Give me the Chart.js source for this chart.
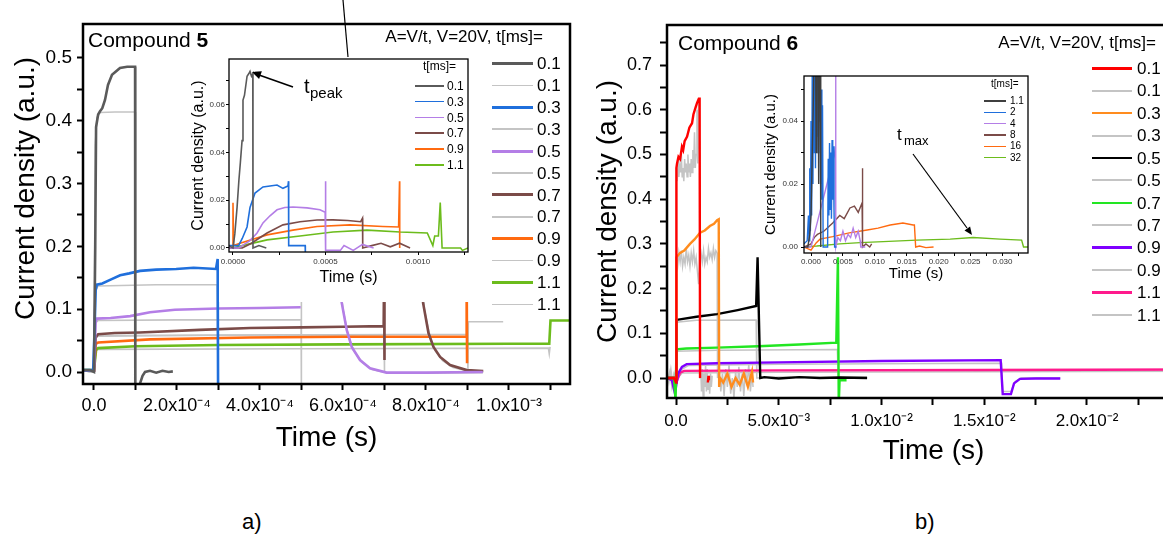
<!DOCTYPE html>
<html>
<head>
<meta charset="utf-8">
<script src="https://cdn.jsdelivr.net/npm/chart.js@4.4.0/dist/chart.umd.min.js"></script>
<style>
html, body { margin: 0; padding: 0; background: #fff; }
body { width: 1163px; height: 547px; overflow: hidden; position: relative; font-family: 'Liberation Sans', Arial, sans-serif; color: #000; }
canvas { position: absolute; }
.txt { position: absolute; white-space: nowrap; line-height: 1; }
.bar { position: absolute; }
</style>
</head>
<body>
<canvas id="c5" width="580" height="460" style="left:0px;top:0px"></canvas>
<canvas id="c5in" width="291" height="250" style="left:185px;top:52px"></canvas>
<canvas id="c6" width="620" height="470" style="left:580px;top:0px"></canvas>
<canvas id="c6in" width="281" height="222" style="left:755px;top:68px"></canvas>
<div id="marks"></div>
<svg width="1163" height="547" style="position:absolute;left:0;top:0;pointer-events:none">
  <line x1="343" y1="0" x2="348" y2="57" stroke="#000" stroke-width="1.2"/>
  <line x1="293" y1="87" x2="259" y2="75" stroke="#000" stroke-width="1.6"/>
  <polygon points="252,72 261.9,71.3 259.1,78.9" fill="#000"/>
  <line x1="913" y1="154" x2="967" y2="228" stroke="#000" stroke-width="1.2"/>
  <polygon points="972,235 970.1,226.4 964.5,230.6" fill="#000"/>
</svg>
<script>
// --- DATA: compound 5, main plot  [time (s), current density] ---
const c5Times = ['0.1', '0.3', '0.5', '0.7', '0.9', '1.1'];
const c5_01 = [[-2.6e-5,0.003],[-1e-5,0.003],[0,0.0],[3e-6,0.2],[5e-6,0.39],[1e-5,0.41],[1.45e-5,0.415],[2e-5,0.42],[2.65e-5,0.433],[3.37e-5,0.457],[4.34e-5,0.473],[6.27e-5,0.484],[8e-5,0.486],[9.9e-5,0.486],[9.95e-5,-0.03],[1.05e-4,null],[1.11e-4,-0.018],[1.17e-4,-0.006],[1.23e-4,0.0],[1.35e-4,0.002],[1.5e-4,-0.001],[1.65e-4,0.002],[1.8e-4,0.0],[1.9e-4,0.001]];
const c5_03 = [[-2.6e-5,0.003],[-2e-6,0.003],[1e-6,0.06],[4e-6,0.13],[7e-6,0.139],[2e-5,0.141],[4e-5,0.147],[6.3e-5,0.154],[8.5e-5,0.157],[1.11e-4,0.161],[1.5e-4,0.163],[1.98e-4,0.164],[2.4e-4,0.166],[2.94e-4,0.164],[2.98e-4,0.18],[2.99e-4,-0.03]];
const c5_05 = [[-2.6e-5,0.002],[0,0.002],[4e-6,0.08],[7e-6,0.085],[4e-5,0.086],[8.7e-5,0.089],[1.35e-4,0.095],[1.95e-4,0.099],[3e-4,0.101],[4e-4,0.102],[4.98e-4,0.103],[5.2e-4,null],[5.9e-4,0.16],[5.97e-4,0.11],[6.09e-4,0.067],[6.21e-4,0.04],[6.41e-4,0.019],[6.65e-4,0.006],[7.05e-4,-0.001],[8e-4,-0.001],[9.37e-4,0.0]];
const c5_07 = [[-2.6e-5,0.002],[0,0.002],[4e-6,0.055],[1e-5,0.06],[5e-5,0.062],[1.1e-4,0.063],[2.55e-4,0.067],[3.76e-4,0.07],[5e-4,0.071],[6e-4,0.072],[6.98e-4,0.073],[6.99e-4,0.16],[7.0e-4,0.019],[7.1e-4,null],[7.9e-4,0.16],[7.93e-4,0.11],[8.06e-4,0.062],[8.18e-4,0.04],[8.34e-4,0.024],[8.58e-4,0.011],[8.98e-4,0.003],[9.38e-4,0.0015]];
const c5_09 = [[-2.6e-5,0.002],[0,0.002],[4e-6,0.045],[1e-5,0.047],[1.35e-4,0.052],[3.76e-4,0.055],[6e-4,0.056],[8.97e-4,0.056],[8.98e-4,0.16],[8.99e-4,0.014]];
const c5_11 = [[-2.6e-5,0.003],[0,0.003],[5e-6,0.035],[1e-5,0.038],[1e-4,0.041],[3e-4,0.043],[6e-4,0.044],[1.0e-3,0.045],[1.097e-3,0.045],[1.1e-3,0.082],[1.147e-3,0.082]];
const c5_01g = [[-2.6e-5,0.002],[0,0.0],[3e-6,0.36],[7e-6,0.405],[1.5e-5,0.413],[5e-5,0.414],[9.9e-5,0.414],[1.0e-4,-0.03]];
const c5_03g = [[-2.6e-5,0.002],[0,0.0],[4e-6,0.13],[1e-5,0.137],[1.5e-4,0.139],[2.97e-4,0.139],[2.99e-4,-0.03]];
const c5_05g = [[-2.6e-5,0.002],[0,0.0],[4e-6,0.078],[1e-5,0.082],[2e-4,0.083],[4.99e-4,0.083],[4.995e-4,0.15],[5.0e-4,-0.03],[5.5e-4,null],[5.9e-4,0.16],[6.0e-4,0.1],[6.12e-4,0.06],[6.25e-4,0.035],[6.45e-4,0.016],[6.7e-4,0.004],[7.1e-4,-0.002],[9.37e-4,-0.001]];
const c5_07g = [[-2.6e-5,0.002],[0,0.0],[4e-6,0.055],[1e-5,0.058],[3e-4,0.059],[6.99e-4,0.059],[7.0e-4,0.0],[7.4e-4,null],[7.9e-4,0.16],[7.96e-4,0.1],[8.1e-4,0.055],[8.22e-4,0.034],[8.4e-4,0.018],[8.65e-4,0.007],[9.05e-4,0.001],[9.38e-4,0.0]];
const c5_09g = [[-2.6e-5,0.002],[0,0.0],[4e-6,0.054],[1e-5,0.057],[4e-4,0.059],[9.0e-4,0.06],[9.01e-4,0.0],[9.02e-4,0.08],[9.86e-4,0.08]];
const c5_11g = [[-2.6e-5,0.002],[0,0.0],[5e-6,0.034],[1e-5,0.036],[5e-4,0.037],[1.095e-3,0.038],[1.097e-3,0.029],[1.099e-3,0.04]];
const c5XTicks = [0, 1e-4, 2e-4, 3e-4, 4e-4, 5e-4, 6e-4, 7e-4, 8e-4, 9e-4, 1e-3, 1.1e-3];
const c5XLabels = ['0.0', '', '2.0x10⁻⁴', '', '4.0x10⁻⁴', '', '6.0x10⁻⁴', '', '8.0x10⁻⁴', '', '1.0x10⁻³', ''];
const c5YTicks = [0, 0.05, 0.1, 0.15, 0.2, 0.25, 0.3, 0.35, 0.4, 0.45, 0.5];
const c5YLabels = ['0.0', '', '0.1', '', '0.2', '', '0.3', '', '0.4', '', '0.5'];

// --- DATA: compound 5, inset ---
const c5iTimes = ['0.1', '0.3', '0.5', '0.7', '0.9', '1.1'];
const c5i_01 = [[-2.2e-5,0.001],[0,0.0],[1e-5,0.006],[2.2e-5,0.017],[3.2e-5,0.0285],[4.0e-5,0.036],[4.9e-5,0.045],[5.4e-5,0.062],[6.2e-5,0.064],[7.6e-5,0.072],[8.5e-5,0.073],[9.2e-5,0.074],[1.0e-4,0.072],[1.07e-4,0.073],[1.08e-4,0.0],[1.4e-4,0.001],[1.8e-4,0.0]];
const c5i_03 = [[-2.2e-5,0.001],[3e-5,0.001],[5e-5,0.004],[7.6e-5,0.0088],[9.2e-5,0.017],[1.19e-4,0.023],[1.62e-4,0.0256],[2e-4,0.026],[2.38e-4,0.0264],[2.7e-4,0.025],[2.97e-4,0.026],[3.0e-4,0.028],[3.01e-4,0.001],[3.9e-4,0.001],[3.91e-4,-0.002]];
const c5i_05 = [[-2.2e-5,0.0],[3e-5,0.0],[5e-5,0.001],[9e-5,0.003],[1.3e-4,0.0063],[1.62e-4,0.0105],[2.0e-4,0.0135],[2.38e-4,0.016],[2.8e-4,0.017],[3.24e-4,0.0172],[4e-4,0.0168],[4.7e-4,0.016],[4.98e-4,0.015],[5.0e-4,0.028],[5.01e-4,-0.001],[5.8e-4,-0.001],[6e-4,0.001],[6.5e-4,-0.001],[7e-4,0.0015],[7.6e-4,0.0]];
const c5i_07 = [[-2.2e-5,0.0],[5e-5,0.0],[1e-4,0.002],[1.84e-4,0.0063],[2.7e-4,0.0097],[3.62e-4,0.011],[4.54e-4,0.0117],[5.4e-4,0.0118],[6.2e-4,0.0115],[6.9e-4,0.011],[7.0e-4,0.0125],[7.01e-4,0.0],[7.5e-4,0.001],[8e-4,0.002],[8.5e-4,0.0005],[9e-4,0.002],[9.57e-4,0.0]];
const c5i_09 = [[-2.2e-5,0.0],[-1e-6,0.0],[0,0.019],[3e-6,0.001],[3.8e-5,0.002],[1.84e-4,0.0055],[3.24e-4,0.0075],[4.54e-4,0.009],[6.32e-4,0.0097],[8.1e-4,0.009],[8.95e-4,0.0088],[9.0e-4,0.028],[9.01e-4,0.0]];
const c5i_11 = [[-2.2e-5,0.0],[0,0.0],[5e-5,0.001],[1.84e-4,0.0034],[3.62e-4,0.005],[5.4e-4,0.0067],[7.24e-4,0.0075],[9.03e-4,0.0067],[1.05e-3,0.0063],[1.08e-3,0.001],[1.09e-3,0.005],[1.11e-3,0.005],[1.12e-3,0.019],[1.13e-3,0.0],[1.23e-3,0.0],[1.24e-3,-0.001],[1.27e-3,0.0]];
const c5iXTicks = [0, 0.00025, 0.0005, 0.00075, 0.001, 0.00125];
const c5iXLabels = ['0.0000', '', '0.0005', '', '0.0010', ''];
const c5iYTicks = [0, 0.01, 0.02, 0.03, 0.04, 0.05, 0.06, 0.07];
const c5iYLabels = ['0.00', '', '0.02', '', '0.04', '', '0.06', ''];

// --- DATA: compound 6, main plot ---
const c6Times = ['0.1', '0.3', '0.5', '0.7', '0.9', '1.1'];
const c6_01 = [[-4.4e-4,0.0],[-1e-4,0.0],[0,-0.01],[2e-5,0.47],[5e-5,0.48],[1.2e-4,0.495],[2e-4,0.49],[2.9e-4,0.517],[3.5e-4,0.51],[4.2e-4,0.53],[5.4e-4,0.54],[6.5e-4,0.56],[7.8e-4,0.57],[8.5e-4,0.59],[9.5e-4,0.605],[1.02e-3,0.615],[1.11e-3,0.625],[1.15e-3,0.625],[1.17e-3,0.0],[1.2e-3,null],[1.55e-3,-0.01],[1.58e-3,0.005],[1.6e-3,-0.005]];
const c6_03 = [[-4.4e-4,0.0],[-1e-4,0.0],[0,0.0],[2e-5,0.27],[2e-4,0.28],[4e-4,0.285],[6.8e-4,0.3],[9e-4,0.31],[1.17e-3,0.325],[1.4e-3,0.33],[1.65e-3,0.34],[1.85e-3,0.345],[2.0e-3,0.353],[2.08e-3,0.355],[2.1e-3,-0.02],[2.15e-3,0.0],[2.3e-3,-0.01],[2.5e-3,0.01],[2.7e-3,-0.02],[2.9e-3,0.0],[3.1e-3,-0.015],[3.3e-3,0.01],[3.5e-3,-0.02],[3.7e-3,0.015],[3.75e-3,-0.01]];
const c6_05 = [[-4.4e-4,0.0],[-1e-4,0.0],[0,0.0],[2e-5,0.13],[1e-3,0.137],[2e-3,0.143],[3e-3,0.152],[3.9e-3,0.161],[3.97e-3,0.27],[4.1e-3,0.0],[4.3e-3,0.002],[5e-3,-0.001],[6e-3,0.002],[7e-3,0.0],[8e-3,0.001],[9.3e-3,0.0]];
const c6_07 = [[-4.4e-4,0.0],[-1e-4,0.0],[-2e-5,-0.05],[2e-5,0.064],[5e-4,0.066],[2e-3,0.068],[4e-3,0.071],[6e-3,0.075],[7.8e-3,0.079],[7.88e-3,0.27],[7.92e-3,-0.06],[7.96e-3,-0.005],[8.3e-3,-0.005]];
const c6_09 = [[-4.4e-4,0.0],[-2e-4,-0.005],[-5e-5,-0.035],[1e-4,0.01],[2.9e-4,0.025],[5.2e-4,0.031],[2e-3,0.033],[5e-3,0.035],[1e-2,0.038],[1.58e-2,0.04],[1.59e-2,-0.036],[1.63e-2,-0.036],[1.645e-2,-0.012],[1.674e-2,-0.002],[1.75e-2,-0.001],[1.87e-2,-0.001]];
const c6_11 = [[-4.4e-4,0.0],[-1e-4,0.0],[0,-0.012],[2e-4,0.012],[4e-4,0.016],[5e-3,0.017],[1.5e-2,0.018],[2.55e-2,0.019]];
const c6_01g = [[-4.4e-4,0.01],[-3.5e-4,-0.01],[-2.5e-4,0.02],[-1.5e-4,-0.015],[-5e-5,0.01],[0,0.0],[2e-5,0.47],[6e-5,0.44],[1e-4,0.49],[1.4e-4,0.45],[1.8e-4,0.48],[2.2e-4,0.46],[2.6e-4,0.5],[3e-4,0.45],[3.4e-4,0.47],[3.8e-4,0.44],[4.2e-4,0.49],[4.6e-4,0.46],[5e-4,0.48],[5.4e-4,0.45],[5.8e-4,0.5],[6.2e-4,0.46],[6.6e-4,0.48],[7e-4,0.45],[7.4e-4,0.49],[7.8e-4,0.46],[8.2e-4,0.51],[8.6e-4,0.47],[9e-4,0.55],[9.4e-4,0.47],[9.8e-4,0.5],[1.02e-3,0.6],[1.06e-3,0.48],[1.1e-3,0.62],[1.15e-3,0.5],[1.17e-3,0.0],[1.2e-3,0.03],[1.24e-3,-0.03],[1.28e-3,0.02],[1.32e-3,-0.04],[1.36e-3,0.01],[1.4e-3,-0.02],[1.44e-3,0.03],[1.48e-3,-0.03],[1.52e-3,0.02],[1.56e-3,-0.025],[1.6e-3,0.0],[1.64e-3,-0.035],[1.68e-3,0.01],[1.72e-3,-0.02],[1.76e-3,0.005]];
const c6_03g = [[-4.4e-4,-0.01],[-3e-4,0.015],[-2e-4,-0.02],[-1e-4,0.01],[0,0.0],[2e-5,0.27],[8e-5,0.25],[1.4e-4,0.28],[2e-4,0.26],[2.6e-4,0.285],[3.2e-4,0.25],[3.8e-4,0.27],[4.4e-4,0.255],[5e-4,0.29],[5.6e-4,0.26],[6.2e-4,0.275],[6.8e-4,0.25],[7.4e-4,0.28],[8e-4,0.26],[8.6e-4,0.285],[9.2e-4,0.255],[9.8e-4,0.27],[1.04e-3,0.24],[1.1e-3,0.21],[1.16e-3,0.265],[1.22e-3,0.28],[1.28e-3,0.26],[1.34e-3,0.285],[1.4e-3,0.255],[1.46e-3,0.27],[1.52e-3,0.26],[1.58e-3,0.29],[1.64e-3,0.27],[1.7e-3,0.28],[1.76e-3,0.265],[1.82e-3,0.29],[1.88e-3,0.27],[1.94e-3,0.285],[2.0e-3,0.28],[2.02e-3,0.0],[2.1e-3,0.02],[2.18e-3,-0.03],[2.26e-3,0.01],[2.34e-3,-0.04],[2.42e-3,0.02],[2.5e-3,-0.02],[2.58e-3,0.03],[2.66e-3,-0.035],[2.74e-3,0.0],[2.82e-3,-0.045],[2.9e-3,0.015],[2.98e-3,-0.02],[3.06e-3,0.025],[3.14e-3,-0.03],[3.22e-3,0.01],[3.3e-3,-0.04],[3.38e-3,0.02],[3.46e-3,-0.015],[3.54e-3,0.03],[3.62e-3,-0.03],[3.7e-3,0.01],[3.75e-3,-0.02]];
const c6_05g = [[-4.4e-4,0.0],[0,0.0],[2e-5,0.125],[1e-3,0.129],[3.9e-3,0.13],[3.93e-3,0.0],[5e-3,0.002],[7e-3,0.001],[9.3e-3,0.002]];
const c6_07g = [[-4.4e-4,0.0],[0,0.0],[2e-5,0.06],[2e-3,0.062],[7.85e-3,0.064],[7.9e-3,0.0]];
const c6_09g = [[-4.4e-4,0.0],[0,-0.01],[3e-4,0.02],[6e-4,0.028],[5e-3,0.031],[1.0e-2,0.032],[1.585e-2,0.033],[1.59e-2,-0.03],[1.63e-2,-0.03],[1.65e-2,-0.008],[1.68e-2,0.0],[1.87e-2,0.0]];
const c6_11g = [[-4.4e-4,0.0],[0,-0.005],[3e-4,0.011],[5e-3,0.013],[2.55e-2,0.015]];
const c6XTicks = [0, 0.0025, 0.005, 0.0075, 0.01, 0.0125, 0.015, 0.0175, 0.02, 0.0225];
const c6XLabels = ['0.0', '', '5.0x10⁻³', '', '1.0x10⁻²', '', '1.5x10⁻²', '', '2.0x10⁻²', ''];
const c6YTicks = [0, 0.05, 0.1, 0.15, 0.2, 0.25, 0.3, 0.35, 0.4, 0.45, 0.5, 0.55, 0.6, 0.65, 0.7, 0.75];
const c6YLabels = ['0.0', '', '0.1', '', '0.2', '', '0.3', '', '0.4', '', '0.5', '', '0.6', '', '0.7', ''];

// --- DATA: compound 6, inset ---
const c6iTimes = ['1.1', '2', '4', '8', '16', '32'];
const c6i_1 = [[-1.1e-3,0.0],[-5e-4,0.0],[-2e-4,0.004],[0,0.01],[2e-4,0.03],[4e-4,0.05],[5e-4,0.07],[7e-4,0.07],[8e-4,0.03],[9e-4,0.07],[1.1e-3,0.065],[1.2e-3,0.02],[1.3e-3,0.07],[1.45e-3,0.07],[1.5e-3,0.01],[1.55e-3,0.0]];
const c6i_2 = [[-1.1e-3,0.001],[-6e-4,0.002],[-4e-4,0.01],[-3e-4,0.002],[-2e-4,0.025],[-1e-4,0.005],[0,0.04],[1e-4,0.01],[2e-4,0.06],[3e-4,0.02],[4e-4,0.07],[5e-4,0.03],[6e-4,0.06],[7e-4,0.025],[8e-4,0.07],[9e-4,0.035],[1e-3,0.06],[1.1e-3,0.03],[1.2e-3,0.07],[1.3e-3,0.04],[1.4e-3,0.065],[1.5e-3,0.02],[1.6e-3,0.05],[1.7e-3,0.015],[1.8e-3,0.045],[1.9e-3,0.0],[2.6e-3,0.0],[2.7e-3,0.028],[2.8e-3,0.01],[2.9e-3,0.033],[3.0e-3,0.012],[3.1e-3,0.03],[3.2e-3,0.009],[3.3e-3,0.034],[3.4e-3,0.015],[3.5e-3,0.032],[3.6e-3,0.012],[3.7e-3,0.0],[4.0e-3,0.0]];
const c6i_4 = [[-1.1e-3,0.0],[0,0.0],[5e-4,0.004],[1e-3,0.008],[1.5e-3,0.012],[2e-3,0.016],[2.5e-3,0.02],[3e-3,0.024],[3.5e-3,0.028],[3.8e-3,0.031],[3.85e-3,0.06],[3.9e-3,0.0],[4.2e-3,0.003],[4.6e-3,0.002],[5e-3,0.005],[5.4e-3,0.002],[5.8e-3,0.004],[6.2e-3,0.003],[6.6e-3,0.006],[7e-3,0.003],[7.4e-3,0.005],[7.7e-3,0.002],[7.8e-3,0.0],[8.5e-3,0.0]];
const c6i_8 = [[-1.1e-3,0.0],[0,0.001],[5e-4,0.003],[1e-3,0.004],[2e-3,0.005],[3.4e-3,0.0076],[4.5e-3,0.01],[5.2e-3,0.009],[6.1e-3,0.0124],[6.8e-3,0.013],[7.4e-3,0.011],[8e-3,0.014],[8.05e-3,0.025],[8.1e-3,0.0],[8.6e-3,0.001],[9.2e-3,0.0],[9.5e-3,0.001]];
const c6i_16 = [[-1.1e-3,0.0],[0,-0.001],[8e-4,0.0013],[1.4e-3,0.0025],[3.4e-3,0.0033],[6e-3,0.0045],[8.8e-3,0.0054],[1.05e-2,0.006],[1.24e-2,0.007],[1.44e-2,0.0076],[1.6e-2,0.007],[1.62e-2,0.007],[1.64e-2,0.0],[1.7e-2,0.0003],[1.8e-2,-0.0002],[1.92e-2,0.0]];
const c6i_32 = [[-1.1e-3,0.0],[-6e-4,0.0],[0,0.0002],[9e-4,0.0003],[4.5e-3,0.001],[7.7e-3,0.0014],[1.13e-2,0.0017],[1.66e-2,0.0022],[2.18e-2,0.0025],[2.54e-2,0.003],[2.96e-2,0.0025],[3.3e-2,0.0022],[3.33e-2,0.0],[3.4e-2,0.0]];
const c6iXTicks = [0, 0.0025, 0.005, 0.0075, 0.01, 0.0125, 0.015, 0.0175, 0.02, 0.0225, 0.025, 0.0275, 0.03, 0.0325];
const c6iXLabels = ['0.000', '', '0.005', '', '0.010', '', '0.015', '', '0.020', '', '0.025', '', '0.030', ''];
const c6iYTicks = [0, 0.01, 0.02, 0.03, 0.04, 0.05];
const c6iYLabels = ['0.00', '', '0.02', '', '0.04', ''];

// --- STYLES ---
const GRAY = '#c4c4c4';
const c5Colors = ['#5a5a5a', '#1f6fdc', '#b47ee6', '#7b4b48', '#ff6a10', '#6cbc1c'];
const c6Colors = ['#ff0000', '#ff8c1e', '#000000', '#22e622', '#7f00ff', '#ff1a8c'];
const c6iColors = ['#3f3f3f', '#1f6fdc', '#b47ee6', '#7b4b48', '#ff6a10', '#6cbc1c'];

Chart.defaults.font.family = "'Liberation Sans', Arial, sans-serif";
Chart.defaults.color = '#000';

const framePlugin = {
    id: 'frame',
    beforeDraw(chart, args, o) {
        if (!o.fill) return;
        const ctx = chart.ctx;
        ctx.save();
        ctx.fillStyle = '#fff';
        ctx.fillRect(o.fill[0], o.fill[1], o.fill[2], o.fill[3]);
        ctx.restore();
    },
    afterDraw(chart, args, o) {
        const { ctx, chartArea: a } = chart;
        ctx.save();
        ctx.strokeStyle = '#000';
        ctx.lineWidth = o.width;
        ctx.strokeRect(a.left, a.top, a.right - a.left, a.bottom - a.top);
        ctx.restore();
    }
};

const pts = arr => arr.map(p => ({ x: p[0], y: p[1] }));
const ds = (arr, color, w) => ({ data: pts(arr), borderColor: color, borderWidth: w, pointRadius: 0, fill: false, spanGaps: false });

function axis(a) {
    return {
        type: 'linear', position: a.pos, min: a.min, max: a.max,
        afterBuildTicks: s => { s.ticks = a.ticks.map(v => ({ value: v })); },
        afterFit: s => { if (a.pos === 'left') s.width = a.size; else s.height = a.size; },
        border: { display: false },
        grid: { drawOnChartArea: false, drawTicks: true, tickLength: a.tickLen, tickWidth: a.tickW, tickColor: '#000' },
        ticks: { autoSkip: false, maxRotation: 0, minRotation: 0, padding: a.tickPad, color: a.tickColor || '#000',
                 font: { size: a.tickFont }, callback: (v, i) => a.labels[i] },
        title: { display: true, text: a.title, color: '#000', font: { size: a.titleFont },
                 padding: { top: a.titlePad, bottom: a.titlePad } }
    };
}

function mkChart(id, sets, o) {
    return new Chart(document.getElementById(id), {
        type: 'line',
        data: { datasets: sets },
        options: {
            responsive: false, animation: false, devicePixelRatio: 1,
            layout: { padding: o.pad },
            plugins: { legend: { display: false }, tooltip: { enabled: false }, frame: { width: o.frame, fill: o.fill } },
            elements: { line: { tension: 0 }, point: { radius: 0 } },
            scales: { x: axis(o.x), y: axis(o.y) }
        },
        plugins: [framePlugin]
    });
}

// --- CHART: compound 5 main ---
const c5Sets = [c5_01, c5_03, c5_05, c5_07, c5_09, c5_11].map((d, i) => ds(d, c5Colors[i], 2.6))
    .concat([c5_01g, c5_03g, c5_05g, c5_07g, c5_09g, c5_11g].map(d => ds(d, GRAY, 1.6)));
mkChart('c5', c5Sets, {
    pad: { top: 24, right: 10, left: 0, bottom: 0 }, frame: 2.5,
    x: { pos: 'bottom', min: -2.65e-5, max: 1.147e-3, ticks: c5XTicks, labels: c5XLabels, size: 76,
         tickLen: 6, tickW: 2, tickPad: 5, tickFont: 18, title: 'Time (s)', titleFont: 28, titlePad: 5 },
    y: { pos: 'left', min: -0.0191, max: 0.554, ticks: c5YTicks, labels: c5YLabels, size: 83,
         tickLen: 6, tickW: 2, tickPad: 5, tickFont: 19,
         // leading no-break spaces nudge the centred title upward, as in the original figure
         title: '\u00a0\u00a0\u00a0\u00a0Current density (a.u.)', titleFont: 28, titlePad: 9 }
});

// --- CHART: compound 5 inset ---
mkChart('c5in', [c5i_01, c5i_03, c5i_05, c5i_07, c5i_09, c5i_11].map((d, i) => ds(d, c5Colors[i], 1.6)), {
    pad: { top: 7, right: 8, left: 0, bottom: 0 }, frame: 1.3, fill: [34, 0, 257, 250],
    x: { pos: 'bottom', min: -2.16e-5, max: 1.27e-3, ticks: c5iXTicks, labels: c5iXLabels, size: 50,
         tickLen: 3, tickW: 1, tickPad: 2, tickFont: 8, tickColor: '#333', title: 'Time (s)', titleFont: 16, titlePad: 15 },
    y: { pos: 'left', min: -0.00168, max: 0.0792, ticks: c5iYTicks, labels: c5iYLabels, size: 44,
         tickLen: 3, tickW: 1, tickPad: 1, tickFont: 8, tickColor: '#333', title: 'Current density (a.u.)', titleFont: 16, titlePad: 4 }
});

// --- CHART: compound 6 main ---
const c6Sets = [c6_01, c6_03, c6_05, c6_07, c6_09, c6_11].map((d, i) => ds(d, c6Colors[i], 2.4))
    .concat([c6_01g, c6_03g, c6_05g, c6_07g, c6_09g, c6_11g].map(d => ds(d, GRAY, 1.5)));
mkChart('c6', c6Sets, {
    pad: { top: 25, right: 0, left: 0, bottom: 0 }, frame: 2.5,
    x: { pos: 'bottom', min: -0.000438, max: 0.0255, ticks: c6XTicks, labels: c6XLabels, size: 72,
         tickLen: 7, tickW: 2, tickPad: 6, tickFont: 17, title: 'Time (s)', titleFont: 28, titlePad: 2 },
    y: { pos: 'left', min: -0.0447, max: 0.7897, ticks: c6YTicks, labels: c6YLabels, size: 87,
         tickLen: 7, tickW: 2, tickPad: 8, tickFont: 18, title: 'Current density (a.u.)', titleFont: 28, titlePad: 11 }
});

// --- CHART: compound 6 inset ---
mkChart('c6in', [c6i_1, c6i_2, c6i_4, c6i_8, c6i_16, c6i_32].map((d, i) => ds(d, c6iColors[i], 1.4)), {
    pad: { top: 8, right: 8, left: 0, bottom: 0 }, frame: 1.3, fill: [7, 0, 274, 187],
    x: { pos: 'bottom', min: -0.0011, max: 0.034, ticks: c6iXTicks, labels: c6iXLabels, size: 37,
         tickLen: 3, tickW: 1, tickPad: 1, tickFont: 8, tickColor: '#333', title: 'Time (s)', titleFont: 15, titlePad: 7 },
    y: { pos: 'left', min: -0.0019, max: 0.0543, ticks: c6iYTicks, labels: c6iYLabels, size: 49,
         tickLen: 3, tickW: 1, tickPad: 3, tickFont: 8, tickColor: '#333', title: 'Current density (a.u.)', titleFont: 15, titlePad: 7 }
});

// --- TEXT & LEGENDS ---
const marks = document.getElementById('marks');
function addText(html, css) {
    const d = document.createElement('div');
    d.className = 'txt';
    d.innerHTML = html;
    Object.assign(d.style, css);
    marks.appendChild(d);
}
function addBar(left, top, width, height, color) {
    const d = document.createElement('div');
    d.className = 'bar';
    Object.assign(d.style, { left: left + 'px', top: top + 'px', width: width + 'px', height: height + 'px', background: color });
    marks.appendChild(d);
}
function legend(rows, o) {
    rows.forEach((r, i) => {
        const cy = o.y0 + i * o.dy;
        addBar(o.x0, cy - r.w / 2, o.len, r.w, r.color);
        addText(r.label, { left: o.tx + 'px', top: (cy - 0.49 * o.size) + 'px', fontSize: o.size + 'px' });
    });
}
const pairRows = (times, colors, wc, wg) => times.flatMap((t, i) => [
    { label: t, color: colors[i], w: wc }, { label: t, color: GRAY, w: wg }]);

legend(pairRows(c5Times, c5Colors, 3, 1.8), { x0: 492, len: 41, tx: 537, y0: 63.5, dy: 21.9, size: 17 });
legend(pairRows(c6Times, c6Colors, 2.5, 2), { x0: 1092, len: 40, tx: 1137, y0: 68.3, dy: 22.43, size: 17 });
legend(c5iTimes.map((t, i) => ({ label: t, color: c5Colors[i], w: 1.7 })), { x0: 415, len: 29, tx: 447, y0: 85.7, dy: 15.86, size: 12 });
legend(c6iTimes.map((t, i) => ({ label: t, color: c6iColors[i], w: 1.4 })), { x0: 984, len: 22, tx: 1010, y0: 101, dy: 11.3, size: 10 });

addText('t[ms]=', { left: '423px', top: '60px', fontSize: '12px' });
addText('t[ms]=', { left: '991px', top: '79px', fontSize: '10px' });
addText('A=V/t, V=20V, t[ms]=', { right: '620px', top: '28px', fontSize: '17px' });
addText('A=V/t, V=20V, t[ms]=', { right: '7px', top: '34px', fontSize: '17px' });
addText('Compound <b>5</b>', { left: '88px', top: '29px', fontSize: '21px' });
addText('Compound <b>6</b>', { left: '678px', top: '32px', fontSize: '21px' });
addText('t', { left: '304px', top: '76px', fontSize: '20px' });
addText('peak', { left: '310px', top: '85px', fontSize: '15px' });
addText('t', { left: '897px', top: '126px', fontSize: '17px' });
addText('max', { left: '904px', top: '134px', fontSize: '13px' });
addText('a)', { left: '242px', top: '511px', fontSize: '22px' });
addText('b)', { left: '915px', top: '511px', fontSize: '22px' });
</script>
</body>
</html>
